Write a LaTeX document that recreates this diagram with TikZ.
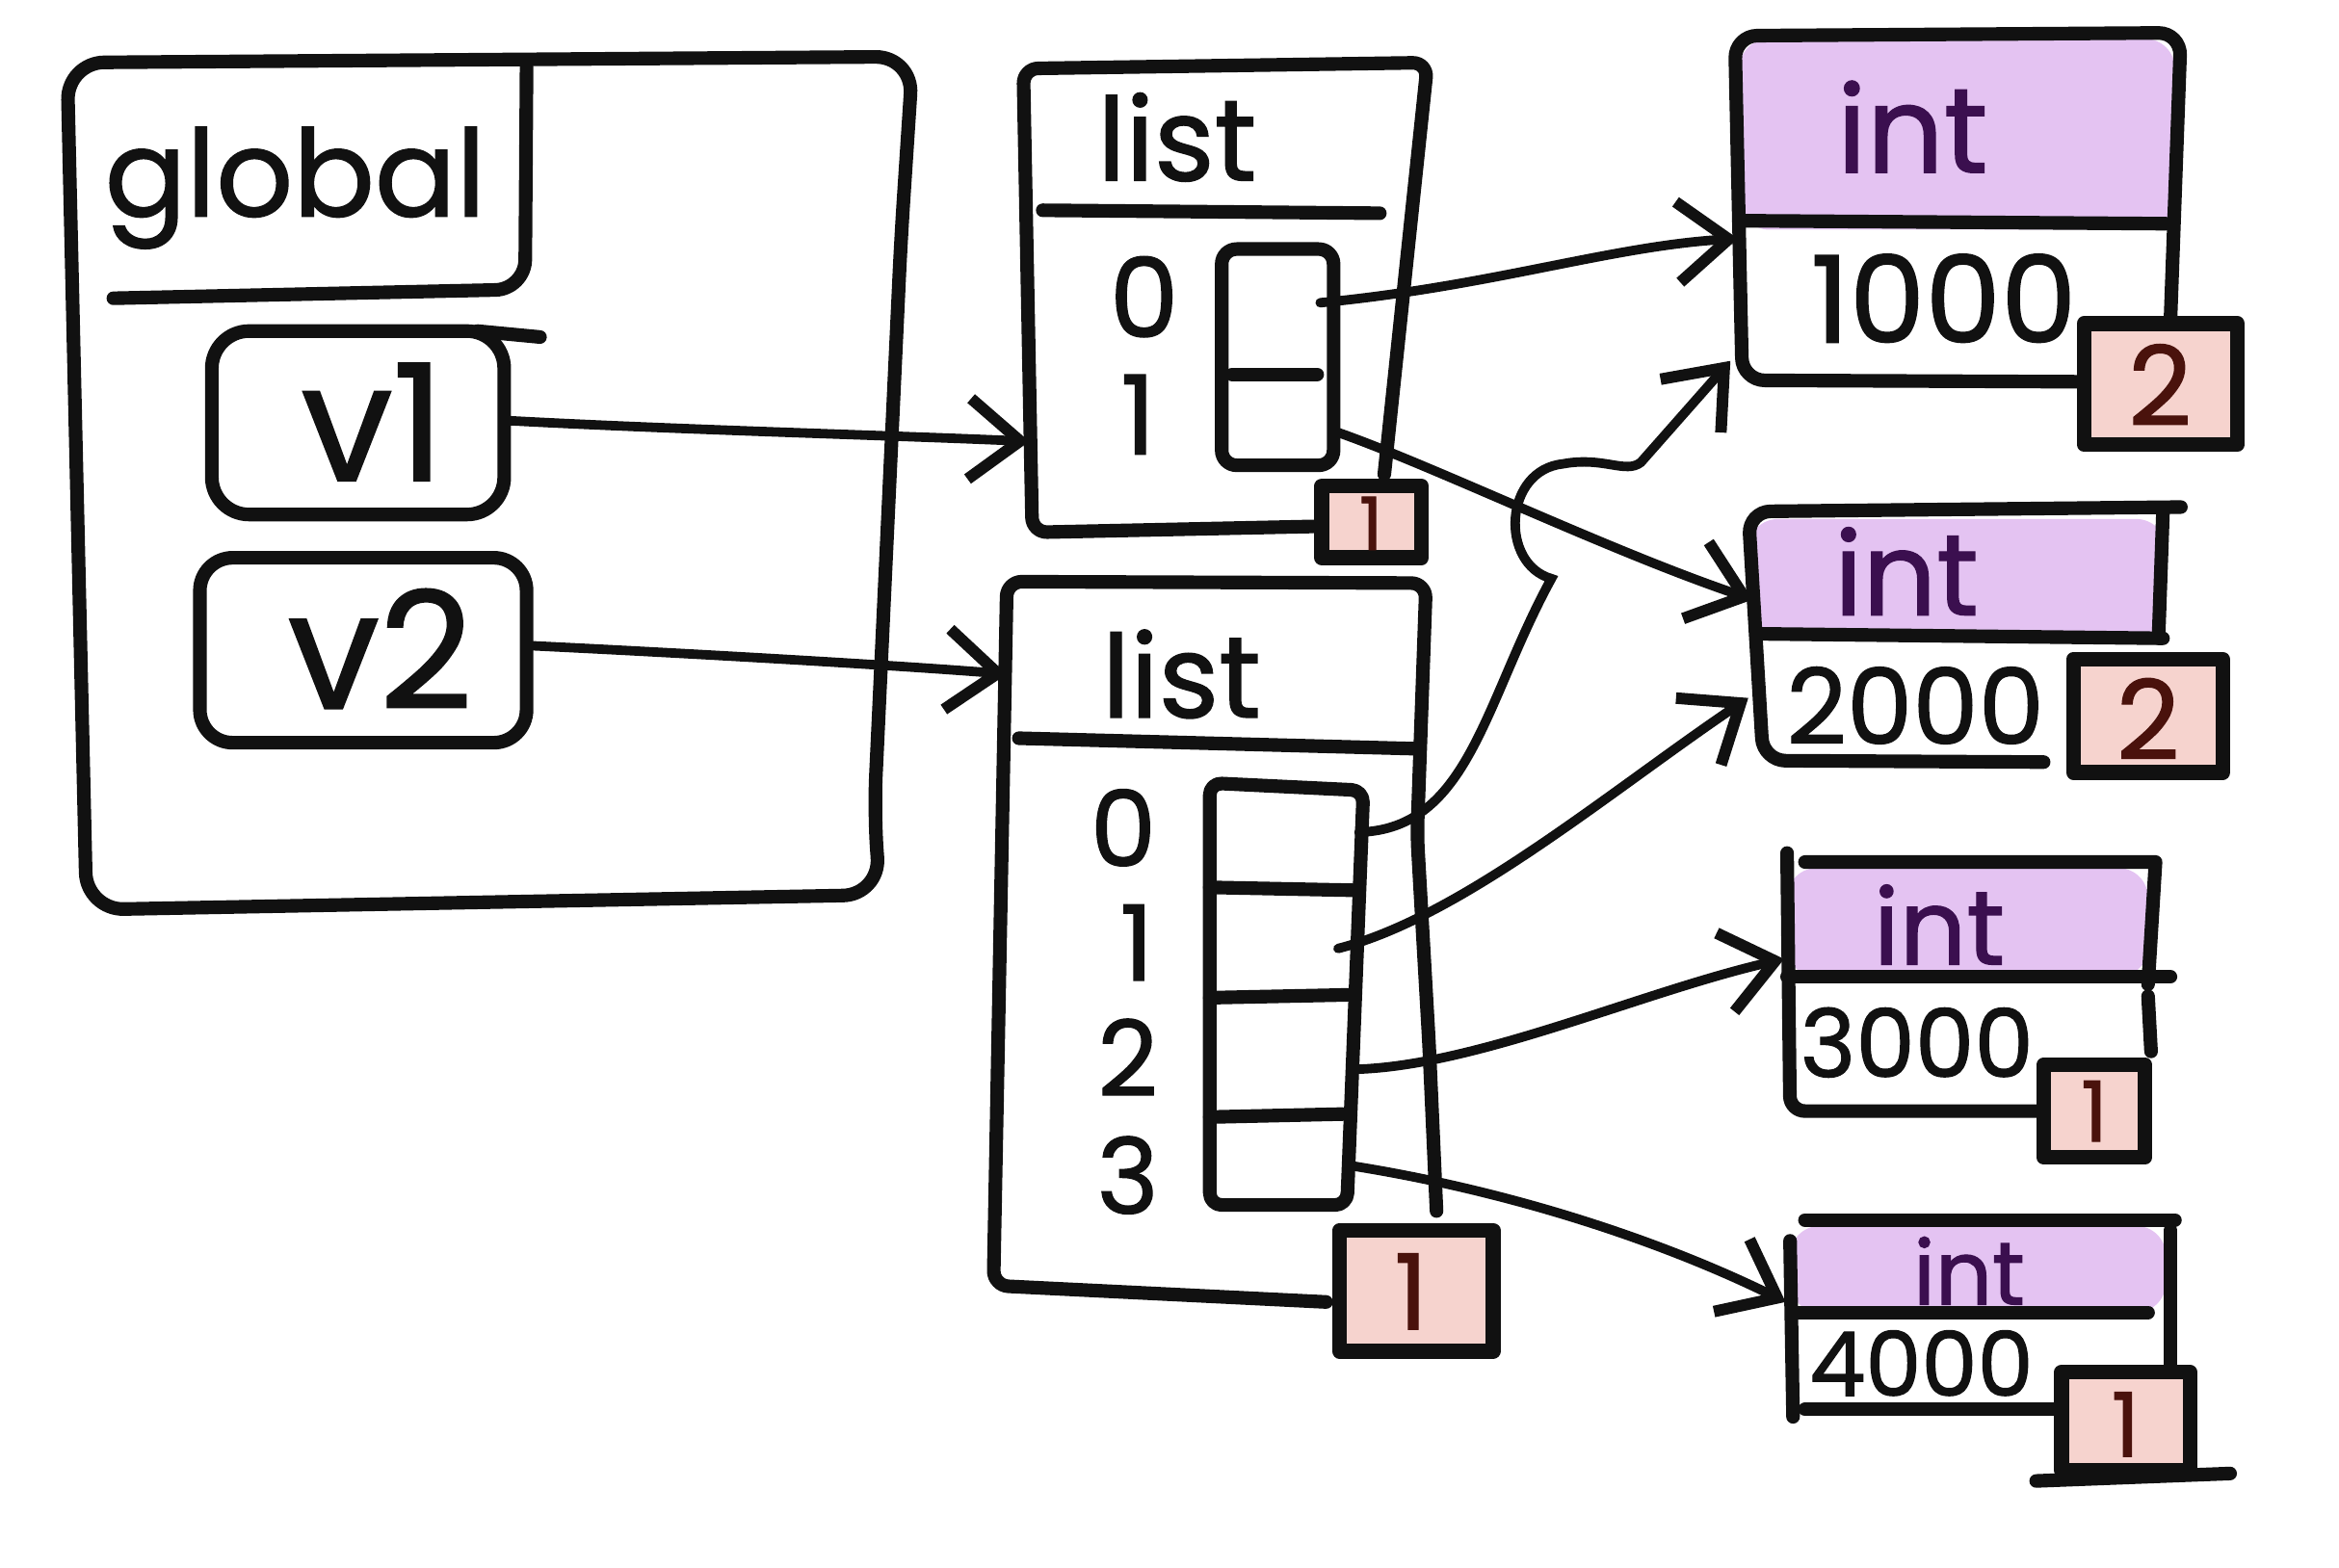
\documentclass[tikz,border=0pt]{standalone}
\usepackage{fontspec}
\setmainfont{Poppins}[UprightFeatures={FakeBold=1.2}]
\usetikzlibrary{arrows.meta}
\definecolor{ink}{HTML}{111111}
\definecolor{lav}{HTML}{E4C3F2}
\definecolor{intink}{HTML}{3B0F4F}
\definecolor{pinkf}{HTML}{F6D3CE}
\definecolor{badgeink}{HTML}{4A120C}
\newcommand{\myfs}[1]{\fontsize{#1pt}{#1pt}\selectfont}
\tikzset{
  stroke/.style={draw=ink, line width=2.6pt, line cap=round, line join=round},
  arrowline/.style={draw=ink, line width=1.8pt, line cap=round,
    -{Straight Barb[length=3.4mm, width=5.4mm, line width=2.2pt]}},
  lbl/.style={inner sep=0pt, text=ink},
  inttxt/.style={inner sep=0pt, text=intink, font=\myfs{23}},
  badge/.style={fill=pinkf, draw=ink, line width=2.8pt, line join=round},
  badgetxt/.style={inner sep=0pt, text=badgeink},
  hdr/.style={fill=lav, rounded corners=2mm}
}
\begin{document}
\begin{tikzpicture}[x=0.1mm, y=-0.1mm]
\useasboundingbox (0,0) rectangle (1568,1051);

% ---------- global frame ----------
\draw[stroke, rounded corners=2.5mm] (45,42) -- (612,38) -- (604,160) -- (586,545) -- (590,600) -- (58,610) -- cycle;
\draw[stroke, rounded corners=2mm] (353,45) -- (352,194) -- (76,200);
\node[lbl, font=\myfs{23}] (glob) at (198,126) {global};

\draw[stroke, rounded corners=2.5mm] (142,222) rectangle (338,345);
\draw[stroke] (320,222) -- (362,226);
\node[lbl, font=\myfs{31}] (v1) at (250,283) {v1};
\draw[stroke, rounded corners=2.2mm] (134,374) rectangle (353,498);
\node[lbl, font=\myfs{31}] (v2) at (255,435) {v2};

% ---------- list 1 ----------
\draw[stroke, rounded corners=1mm] (928,318) -- (957,42) -- (686,46) -- (692,357) -- (880,353);
\draw[stroke] (699,141) -- (925,143);
\node[lbl, font=\myfs{22}] (list1) at (789,92) {list};
\draw[stroke, rounded corners=1mm] (819,167) rectangle (894,312);
\draw[stroke] (826,251) -- (883,251);
\node[lbl, font=\myfs{21}] (i10) at (767,199) {0};
\node[lbl, font=\myfs{21}] (i11) at (763,278) {1};
\draw[badge] (886,326) rectangle (953,374);
\node[badgetxt, font=\myfs{14}] (b1) at (919,351) {1};

% ---------- list 2 ----------
\draw[stroke, rounded corners=1mm] (963,812) -- (958,700) -- (950,560) -- (956,391) -- (675,390) -- (666,862) -- (889,873);
\draw[stroke] (683,495) -- (948,502);
\node[lbl, font=\myfs{22}] (list2) at (792,452) {list};
\draw[stroke, rounded corners=0.8mm] (811,525) -- (914,530) -- (903,808) -- (811,808) -- cycle;
\draw[stroke] (811,595) -- (910,597);
\draw[stroke] (811,669) -- (907,667);
\draw[stroke] (811,749) -- (900,747);
\node[lbl, font=\myfs{20}] (i20) at (753,555) {0};
\node[lbl, font=\myfs{20}] (i21) at (762,632) {1};
\node[lbl, font=\myfs{20}] (i22) at (756,709) {2};
\node[lbl, font=\myfs{20}] (i23) at (756,788) {3};
\draw[badge] (898,825) rectangle (1001,906);
\node[badgetxt, font=\myfs{20}] (b2) at (946,866) {1};

% ---------- int 1000 ----------
\fill[hdr] (1166,26) rectangle (1458,154);
\draw[stroke, rounded corners=1.5mm] (1400,256) -- (1168,255) -- (1163,24) -- (1462,22) -- (1455,215);
\draw[stroke] (1168,148) -- (1452,150);
\node[inttxt] (t1) at (1282,85) {int};
\node[lbl, font=\myfs{23}] (n1) at (1303,200) {1000};
\draw[badge] (1397,217) rectangle (1500,298);
\node[badgetxt, font=\myfs{21}] (c1) at (1448,258) {2};

% ---------- int 2000 ----------
\fill[hdr] (1172,348) rectangle (1452,428);
\draw[stroke, rounded corners=1.5mm] (1370,511) -- (1182,510) -- (1172,343) -- (1462,340);
\draw[stroke] (1450,343) -- (1447,428);
\draw[stroke] (1180,425) -- (1450,428);
\node[inttxt, font=\myfs{22}] (t2) at (1278,383) {int};
\node[lbl, font=\myfs{20}] (n2) at (1284,473) {2000};
\draw[badge] (1390,442) rectangle (1490,518);
\node[badgetxt, font=\myfs{21}] (c2) at (1440,482) {2};

% ---------- int 3000 ----------
\fill[hdr] (1198,582) rectangle (1440,655);
\draw[stroke, rounded corners=1mm] (1198,572) -- (1200,745) -- (1365,745);
\draw[stroke] (1210,578) -- (1445,578) -- (1440,660);
\draw[stroke] (1198,655) -- (1455,655);
\draw[stroke] (1440,668) -- (1442,705);
\node[inttxt, font=\myfs{20}] (t3) at (1300,620) {int};
\node[lbl, font=\myfs{18}] (n3) at (1285,699) {3000};
\draw[badge] (1370,714) rectangle (1438,776);
\node[badgetxt, font=\myfs{16}] (c3) at (1404,745) {1};

% ---------- int 4000 ----------
\fill[hdr] (1200,822) rectangle (1452,880);
\draw[stroke] (1210,818) -- (1458,818);
\draw[stroke] (1200,832) -- (1202,950);
\draw[stroke] (1455,825) -- (1455,915);
\draw[stroke] (1205,880) -- (1440,880);
\draw[stroke] (1210,945) -- (1380,945);
\node[inttxt, font=\myfs{17}] (t4) at (1320,852) {int};
\node[lbl, font=\myfs{17}] (n4) at (1288,914) {4000};
\draw[badge] (1382,920) rectangle (1468,986);
\draw[stroke] (1365,993) -- (1495,988);
\node[badgetxt, font=\myfs{17}] (c4) at (1425,955) {1};

% ---------- connector end points ----------
\coordinate (v1out) at (340,282);
\coordinate (l1in)  at (690,296);
\coordinate (v2out) at (357,433);
\coordinate (l2in)  at (675,452);
\coordinate (s10) at (885,203);
\coordinate (s11) at (897,290);
\coordinate (s20) at (911,558);
\coordinate (s21) at (897,636);
\coordinate (s22) at (908,717);
\coordinate (s23) at (908,782);
\coordinate (e1a) at (1165,160);
\coordinate (e1b) at (1160,242);
\coordinate (e2a) at (1175,402);
\coordinate (e2b) at (1172,468);
\coordinate (e3) at (1196,643);
\coordinate (e4) at (1197,873);

% ---------- connectors ----------
\draw[arrowline] (v1out) .. controls (450,288) and (600,292) .. (l1in);
\draw[arrowline] (v2out) .. controls (460,438) and (600,446) .. (l2in);
\draw[arrowline] (s10) .. controls (1000,192) and (1080,165) .. (e1a);
\draw[arrowline] (s11) .. controls (960,312) and (1080,370) .. (e2a);
\draw[arrowline] (s20) .. controls (985,556) and (995,470) .. (1040,388)
   .. controls (1005,378) and (1008,315) .. (1048,311)
   .. controls (1075,306) and (1090,318) .. (1100,310) -- (e1b);
\draw[arrowline] (s21) .. controls (980,615) and (1080,530) .. (e2b);
\draw[arrowline] (s22) .. controls (990,715) and (1100,665) .. (e3);
\draw[arrowline] (s23) .. controls (1020,800) and (1120,835) .. (e4);
\end{tikzpicture}
\end{document}
